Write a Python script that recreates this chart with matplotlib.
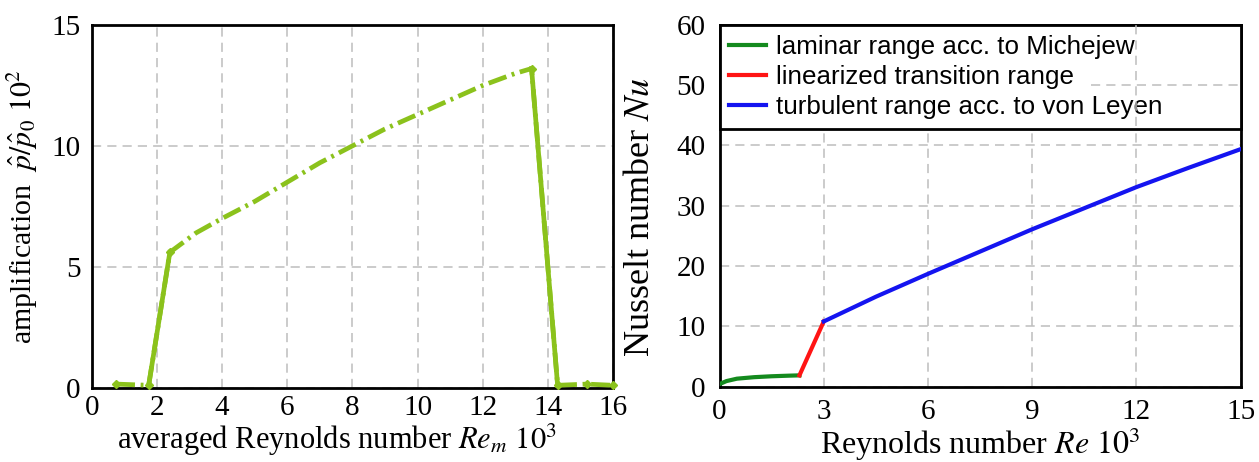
import matplotlib
matplotlib.use("Agg")
import matplotlib.pyplot as plt
import numpy as np

plt.rcParams['font.family'] = ['Liberation Serif', 'DejaVu Serif']
plt.rcParams['mathtext.fontset'] = 'stix'

# ---- left chart data (averaged Reynolds number vs amplification) ----
re_m = [0.75, 1.75, 2.4, 3.2, 4.0, 5.0, 6.0, 7.0, 8.0, 9.0, 10.0, 11.0, 12.0, 13.0, 13.5, 14.3, 15.2, 16.0]
amp = [0.15, 0.1, 5.6, 6.4, 7.0, 7.7, 8.5, 9.3, 10.0, 10.7, 11.3, 11.9, 12.5, 13.0, 13.2, 0.1, 0.15, 0.1]
left_xticks = [0, 2, 4, 6, 8, 10, 12, 14, 16]
left_yticks = [0, 5, 10, 15]

# ---- right chart data (Reynolds number vs Nusselt number) ----
re_lam = [0.0, 0.2, 0.5, 1.0, 1.5, 2.0, 2.3]
nu_lam = [0.4, 0.9, 1.3, 1.55, 1.7, 1.8, 1.85]
re_tr = [2.3, 3.0]
nu_tr = [1.85, 10.8]
re_turb = [3.0, 4.5, 6.0, 7.5, 9.0, 10.5, 12.0, 13.5, 15.0]
nu_turb = [10.8, 14.9, 18.7, 22.4, 26.1, 29.6, 33.1, 36.3, 39.4]
right_xticks = [0, 3, 6, 9, 12, 15]
right_yticks = [0, 10, 20, 30, 40, 50, 60]
legend_labels = ["laminar range acc. to Michejew",
                 "linearized transition range",
                 "turbulent range acc. to von Leyen"]

fig = plt.figure(figsize=(12.59, 4.62), dpi=100)
axL = fig.add_axes([0.0728, 0.1608, 0.4141, 0.785])
axR = fig.add_axes([0.5715, 0.1634, 0.4140, 0.7825])

grid_kw = dict(color='#bdbdbd', linestyle=(0, (6, 4)), linewidth=1.1)
tick_fs = 21

# ---------------- left ----------------
lime = '#8bc21c'
axL.plot(re_m, amp, color=lime, lw=3.4, dashes=(4, 1.2, 0.6, 1.2),
         dash_capstyle='butt', marker='D', markersize=4.5,
         markevery=[0, 1, 2, 14, 15, 16, 17], zorder=3, clip_on=False)
axL.plot(re_m[1:3], amp[1:3], color=lime, lw=3.4, zorder=3)
axL.plot(re_m[14:16], amp[14:16], color=lime, lw=3.4, zorder=3)
axL.set_xlim(0, 16)
axL.set_ylim(0, 15)
axL.set_xticks(left_xticks)
axL.set_yticks(left_yticks)
axL.grid(True, **grid_kw)
axL.tick_params(length=0, labelsize=tick_fs)
axL.tick_params(axis='y', pad=8)
axL.tick_params(axis='x', pad=5)
for s in axL.spines.values():
    s.set_linewidth(2.0)
axL.set_xlabel(r'averaged Reynolds number $Re_{m}$ $10^3$', fontsize=22, labelpad=2)
axL.xaxis.set_label_coords(0.47, -0.095)
axL.set_ylabel(r'amplification  $\hat{p}/\hat{p}_0$ $10^2$', fontsize=21.5, labelpad=8)

# ---------------- right ----------------
axR.plot(re_lam, nu_lam, color='#148a1e', lw=3.0, label=legend_labels[0], zorder=3)
axR.plot(re_tr, nu_tr, color='#ff1414', lw=3.0, label=legend_labels[1], zorder=3)
axR.plot(re_turb, nu_turb, color='#1414f0', lw=3.0, label=legend_labels[2], zorder=3)
axR.set_xlim(0, 15)
axR.set_ylim(0, 60)
axR.set_xticks(right_xticks)
axR.set_yticks(right_yticks)
axR.grid(True, **grid_kw)
axR.tick_params(length=0, labelsize=tick_fs)
axR.tick_params(axis='y', pad=10)
axR.tick_params(axis='x', pad=9)
for s in axR.spines.values():
    s.set_linewidth(2.0)
axR.set_xlabel(r'Reynolds number $Re$ $10^3$', fontsize=23, labelpad=0)
axR.set_ylabel(r'Nusselt number $Nu$', fontsize=26, labelpad=4)
axR.yaxis.set_label_coords(-0.12, 0.47)

leg = axR.legend(loc='upper left', bbox_to_anchor=(0, 0, 1, 1), mode='expand',
                 borderaxespad=0, fancybox=False, frameon=True,
                 prop={'family': 'Liberation Sans', 'size': 18.7},
                 handlelength=1.42, handletextpad=0.38, borderpad=0.38,
                 labelspacing=0.235)
fr = leg.get_frame()
fr.set_edgecolor('black')
fr.set_linewidth(2.0)
fr.set_alpha(1)
for ln in leg.get_lines():
    ln.set_linewidth(3.0)
# grid segments visible through the legend box
axR.axvline(12, ymin=0.72, ymax=1, zorder=6, **grid_kw)
axR.axhline(50, xmin=10.7 / 15, xmax=1, zorder=6, **grid_kw)

fig.savefig('out.png', dpi=100)
